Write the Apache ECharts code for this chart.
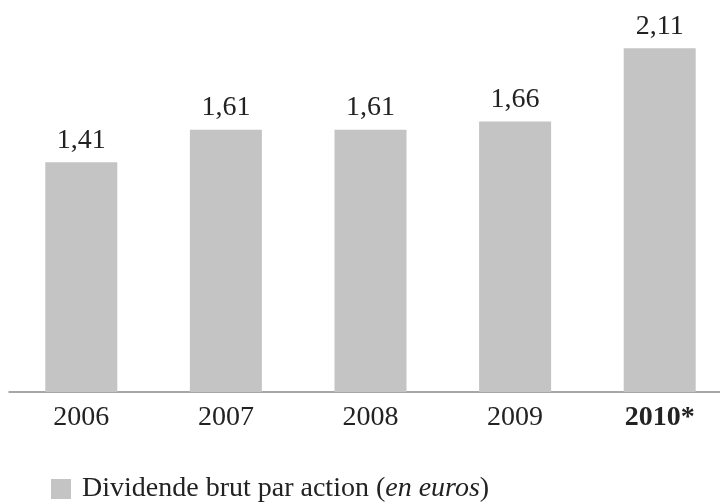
<!DOCTYPE html>
<html>
<head>
<meta charset="utf-8">
<script src="https://cdn.jsdelivr.net/npm/echarts@6/dist/echarts.min.js"></script>
<style>
  html, body { margin: 0; padding: 0; background: #fff; }
  #chart { width: 720px; height: 502px; }
</style>
</head>
<body>
<div id="chart"></div>
<script>
// dividende brut par action, en euros
const years = ["2006", "2007", "2008", "2009", "2010*"];
const dividends = [1.41, 1.61, 1.61, 1.66, 2.11];
const seriesName = "Dividende brut par action";

const serif = "'Liberation Serif', 'DejaVu Serif', serif";
const chart = echarts.init(document.getElementById("chart"));

chart.setOption({
  animation: false,
  textStyle: { fontFamily: serif },
  // the plot runs a little past the right edge, like the original
  grid: { left: 9, width: 723, top: 1, bottom: 110, outerBoundsMode: "none", containLabel: false },
  legend: {
    left: 46,
    top: 470,
    icon: "rect",
    itemWidth: 20,
    itemHeight: 20,
    formatter: () => "{p|Dividende brut par action (}{i|en euros}{a|)}",
    textStyle: {
      rich: {
        p: { fontFamily: serif, fontSize: 28, color: "#222", padding: [0, 0, 0, 6] },
        a: { fontFamily: serif, fontSize: 28, color: "#222" },
        i: { fontFamily: serif, fontSize: 28, color: "#222", fontStyle: "italic" }
      }
    }
  },
  xAxis: {
    type: "category",
    data: years,
    axisLine: { lineStyle: { color: "#8a8a8a", width: 1.5 } },
    axisTick: { show: false },
    axisLabel: {
      interval: 0,
      margin: 12,
      fontFamily: serif,
      fontSize: 28,
      color: "#222",
      formatter: (v) => (v === "2010*" ? "{b|" + v + "}" : v),
      rich: { b: { fontFamily: serif, fontSize: 28, fontWeight: "bold", color: "#222" } }
    }
  },
  yAxis: {
    type: "value",
    min: 0,
    max: 2.4,
    show: false,
    splitLine: { show: false }
  },
  series: [
    {
      name: seriesName,
      type: "bar",
      data: dividends,
      barWidth: 72,
      itemStyle: { color: "#c4c4c4" },
      label: {
        show: true,
        position: "top",
        distance: 8,
        fontFamily: serif,
        fontSize: 28,
        color: "#222",
        formatter: (p) => String(p.value).replace(".", ",")
      }
    }
  ]
});
</script>
</body>
</html>
